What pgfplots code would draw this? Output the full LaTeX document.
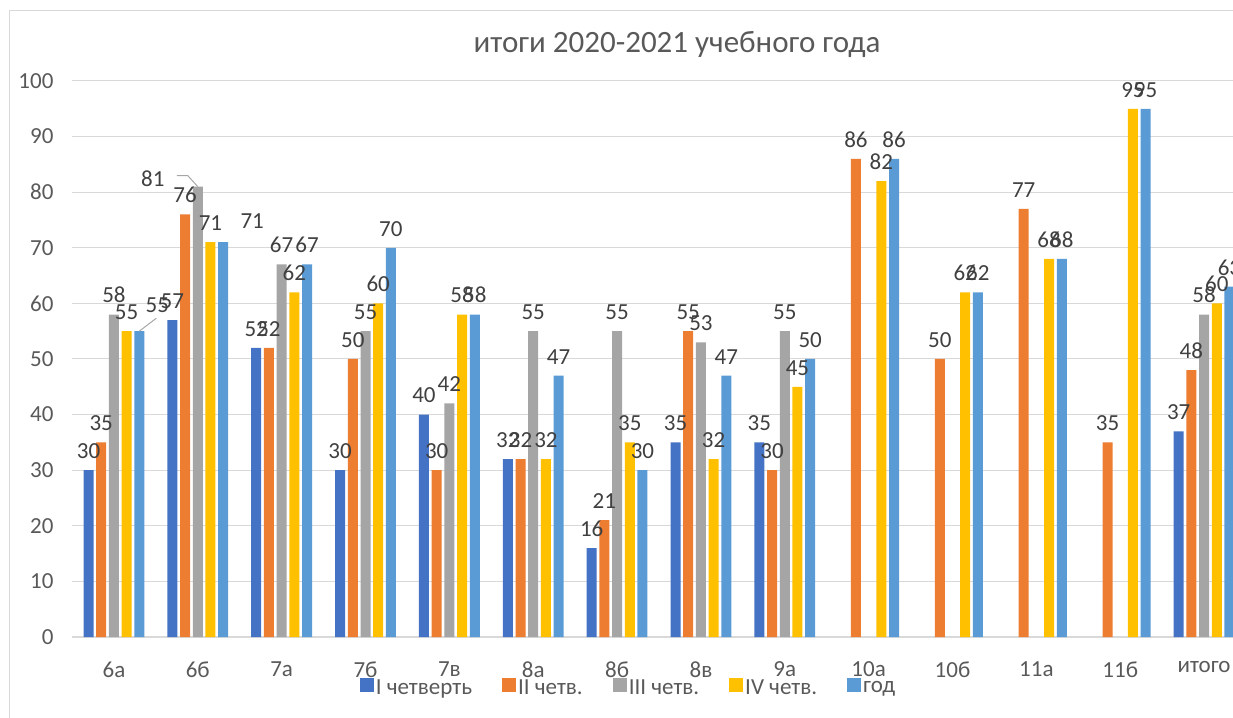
\documentclass[border=0pt]{standalone}
\usepackage{fontspec}
\setmainfont{Carlito}
\usepackage{pgfplots}
\usepackage{pgfplotstable}
\pgfplotsset{compat=1.18}
\pgfplotsset{ybar legend/.style={legend image code/.code={\fill[##1] (0pt,-4.5pt) rectangle (14pt,9.5pt);}}}
\definecolor{c1}{HTML}{4472C4}
\definecolor{c2}{HTML}{ED7D31}
\definecolor{c3}{HTML}{A5A5A5}
\definecolor{c4}{HTML}{FFC000}
\definecolor{c5}{HTML}{5B9BD5}
\definecolor{gridc}{HTML}{D9D9D9}
\definecolor{txt}{HTML}{595959}
\definecolor{lbl}{HTML}{404040}
\definecolor{lead}{HTML}{A6A6A6}
% x = category index, y = value, dx/dy = label offset (pt)
\pgfplotstableread{
x y dx dy
0 30 0 0
1 57 0 0
2 52 0 0
3 30 0 0
4 40 0 0
5 32 0 0
6 16 0 0
7 35 0 0
8 35 0 0
13 37 0 0
}\tI
\pgfplotstableread{
x y dx dy
0 35 0 0
1 76 0 0
2 52 0 0
3 50 0 0
4 30 0 0
5 32 0 0
6 21 0 0
7 55 0 0
8 30 0 0
9 86 0 0
10 50 0 0
11 77 0 0
12 35 0 0
13 48 0 0
}\tII
\pgfplotstableread{
x y dx dy
0 58 0 0
1 81 -45 -12
2 67 0 0
3 55 0 0
4 42 0 0
5 55 0 0
6 55 0 0
7 53 0 0
8 55 0 0
13 58 0 0
}\tIII
\pgfplotstableread{
x y dx dy
0 55 0 0
1 71 0 0
2 62 0 0
3 60 0 0
4 58 0 0
5 32 0 0
6 35 0 0
7 32 0 0
8 45 0 0
9 82 0 0
10 62 0 0
11 68 0 0
12 95 0 0
13 60 0 0
}\tIV
\pgfplotstableread{
x y dx dy
0 55 18 7
1 71 29 2
2 67 0 0
3 70 0 0
4 58 0 0
5 47 0 0
6 30 0 0
7 47 0 0
8 50 0 0
9 86 0 0
10 62 0 0
11 68 0 0
12 95 0 0
13 63 0 0
}\tV
\begin{document}
\begin{tikzpicture}
\path[use as bounding box] (0,0) rectangle (1233pt,717pt);
\draw[color=gridc, line width=1pt] (9pt,-5pt) rectangle (1260pt,706pt);
\begin{axis}[
  at={(72pt,80pt)}, anchor=south west, scale only axis,
  width=1174pt, height=556pt,
  xmin=-0.5, xmax=13.5, ymin=0, ymax=100,
  ytick={0,10,...,100},
  xtick={0,...,13},
  xticklabels={6а,6б,7а,7б,7в,8а,8б,8в,9а,10а,10б,11а,11б,итого},
  ybar=2.7pt, bar width=10pt,
  ymajorgrids, grid style={draw=gridc, line width=1pt},
  axis x line*=bottom, axis y line*=left,
  x axis line style={draw=gridc, line width=1.3pt, -},
  y axis line style={draw=none},
  major tick length=0pt,
  tick style={draw=none},
  ticklabel style={font=\fontsize{23}{27}\selectfont, text=txt},
  xticklabel style={yshift=-21pt},
  yticklabel style={xshift=-15pt},
  /pgf/number format/assume math mode=true,
  nodes near coords,
  visualization depends on={\thisrow{dx} \as \ldx},
  visualization depends on={\thisrow{dy} \as \ldy},
  every node near coord/.append style={font=\fontsize{23}{27}\selectfont, text=lbl, yshift=8pt, xshift=\ldx pt, yshift=\ldy pt},
  legend style={at={(0.474,-0.0917)}, anchor=center, draw=none, fill=none,
    legend columns=-1, font=\fontsize{23}{27}\selectfont, text=txt,
    /tikz/every even column/.append style={column sep=28pt},
    /tikz/every odd column/.append style={column sep=0pt}},
]
\addplot[fill=c1, draw=none] table[x=x, y=y] {\tI};
\addplot[fill=c2, draw=none] table[x=x, y=y] {\tII};
\addplot[fill=c3, draw=none] table[x=x, y=y] {\tIII};
\addplot[fill=c4, draw=none] table[x=x, y=y] {\tIV};
\addplot[fill=c5, draw=none] table[x=x, y=y] {\tV};
\legend{I четверть, II четв., III четв., IV четв., год}
% leader lines of the two moved labels
\draw[lead, line width=1pt] ([xshift=25.4pt]axis cs:0,55) -- ++(17pt,13pt);
\draw[lead, line width=1pt] (axis cs:1,81) -- ++(-10pt,11pt) -- ++(-11pt,0pt);
\end{axis}
\node[font=\fontsize{31}{37}\selectfont, text=txt] at (677pt,672pt) {итоги 2020-2021 учебного года};
\end{tikzpicture}
\end{document}
